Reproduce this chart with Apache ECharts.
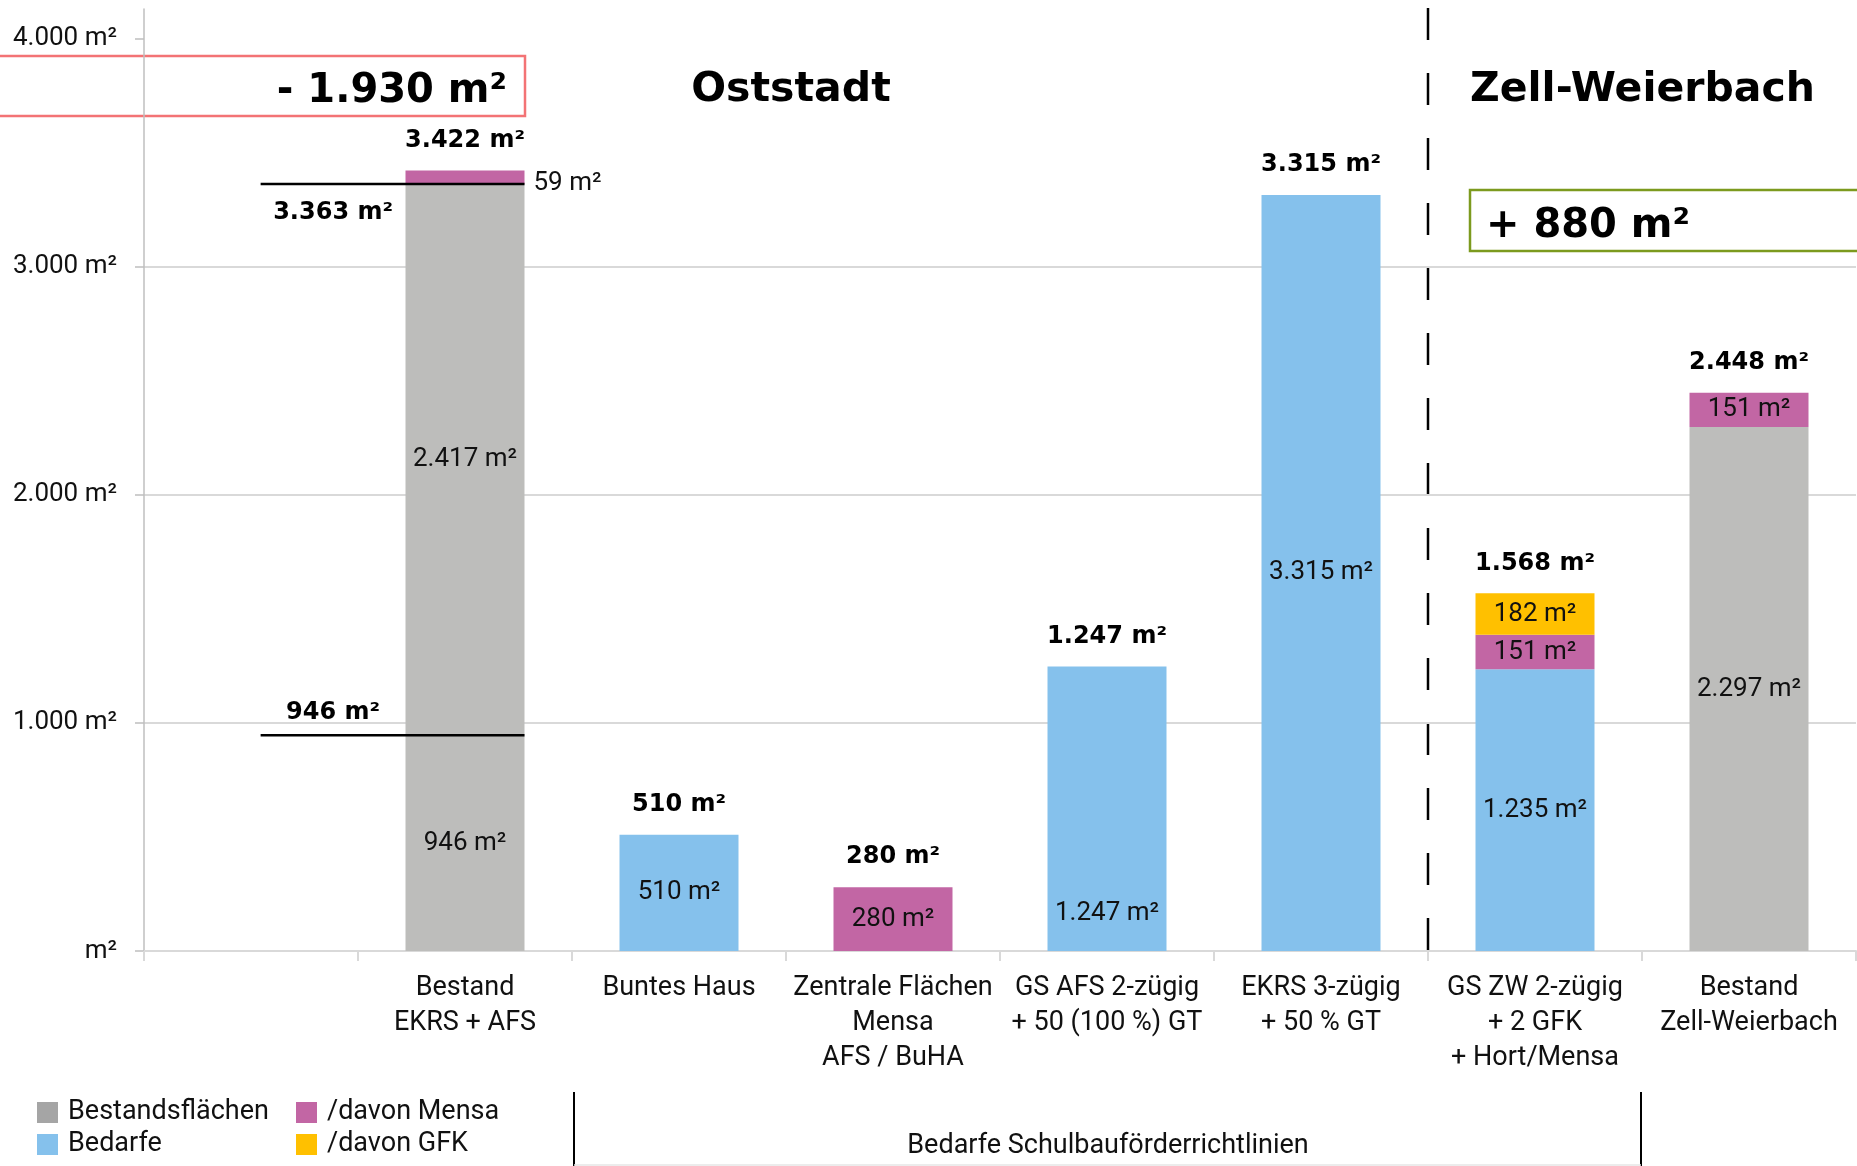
<!DOCTYPE html>
<html>
<head>
<meta charset="utf-8">
<title>Flächenbedarf Oststadt / Zell-Weierbach</title>
<script src="https://cdn.jsdelivr.net/npm/echarts@6/dist/echarts.min.js"></script>
<style>
  html, body { margin: 0; padding: 0; background: #fff; }
  #main { width: 1857px; height: 1166px; }
</style>
</head>
<body>
<div id="main"></div>
<script type="text/javascript">
// Kategorien (erste Spalte ist leer)
var categories = ['', 'Bestand\nEKRS + AFS', 'Buntes Haus', 'Zentrale Flächen\nMensa\nAFS / BuHA',
  'GS AFS 2-zügig\n+ 50 (100 %) GT', 'EKRS 3-zügig\n+ 50 % GT', 'GS ZW 2-zügig\n+ 2 GFK\n+ Hort/Mensa',
  'Bestand\nZell-Weierbach'];

// Werte in m²
var bestandUnten = [null, 946, null, null, null, null, null, 2297];
var bestandOben  = [null, 2417, null, null, null, null, null, null];
var bedarfe      = [null, null, 510, null, 1247, 3315, 1235, null];
var mensa        = [null, 59, null, 280, null, null, 151, 151];
var gfk          = [null, null, null, null, null, null, 182, null];

// Bezugslinien im Bestand EKRS + AFS
var refValues = [946, 3363];
var refSides = ['above', 'below'];

var yTicks = [0, 1000, 2000, 3000, 4000];

var REG = 'Roboto';
var BOLD = '"DejaVu Sans"';
var barW = 119;

function fmt(v) {
  return String(v).replace(/\B(?=(\d{3})+(?!\d))/g, '.');
}
function m2(v) { return fmt(v) + ' m²'; }

var totals = categories.map(function (c, i) {
  var s = 0;
  [bestandUnten, bestandOben, bedarfe, mensa, gfk].forEach(function (arr) {
    if (arr[i] != null) s += arr[i];
  });
  return s > 0 ? [i, s] : null;
}).filter(function (d) { return d; });

var innerLabel = {
  show: true,
  position: 'inside',
  fontFamily: REG,
  fontSize: 26,
  color: '#111',
  formatter: function (p) { return m2(p.value); }
};

function barSeries(name, arr, color, tweak) {
  return {
    name: name,
    type: 'bar',
    stack: 'flaeche',
    barWidth: barW,
    itemStyle: { color: color },
    label: innerLabel,
    data: arr.map(function (v, i) {
      if (v == null) return null;
      if (tweak && tweak[i]) return { value: v, label: tweak[i] };
      return v;
    })
  };
}

var legendBase = {
  orient: 'vertical',
  top: 1099,
  height: 80,
  padding: 0,
  icon: 'rect',
  itemWidth: 21,
  itemHeight: 21,
  itemGap: 5,
  selectedMode: false,
  textStyle: { fontFamily: REG, fontSize: 27, color: '#111', lineHeight: 21, padding: [0, 0, 0, 5] }
};

var myChart = echarts.init(document.getElementById('main'));

var option = {
  animation: false,
  backgroundColor: '#fff',
  grid: { left: 144, right: 1, top: 9, bottom: 215 },
  legend: [
    Object.assign({}, legendBase, {
      left: 37,
      data: [{ name: 'Bestandsflächen', itemStyle: { color: '#A5A5A5' } }, 'Bedarfe']
    }),
    Object.assign({}, legendBase, {
      left: 296,
      data: ['/davon Mensa', '/davon GFK']
    })
  ],
  xAxis: {
    type: 'category',
    data: categories,
    axisLine: { lineStyle: { color: '#D9D9D9', width: 2 } },
    axisTick: { show: true, length: 10, lineStyle: { color: '#D9D9D9', width: 2 } },
    axisLabel: {
      interval: 0,
      margin: 20,
      fontFamily: REG,
      fontSize: 27,
      lineHeight: 35,
      color: '#111'
    }
  },
  yAxis: {
    type: 'value',
    min: 0,
    max: 4130,
    interval: 1000,
    axisLine: { show: true, lineStyle: { color: '#BFBFBF', width: 1.5 } },
    axisTick: { show: true, length: 9, customValues: yTicks, lineStyle: { color: '#BFBFBF', width: 1.5 } },
    splitLine: { show: true, showMaxLine: false, lineStyle: { color: '#D9D9D9', width: 2 } },
    axisLabel: {
      customValues: yTicks,
      margin: 27,
      fontFamily: REG,
      fontSize: 26,
      color: '#111',
      formatter: function (v) { return v === 0 ? 'm²' : m2(v); }
    }
  },
  series: [
    barSeries('Bestandsflächen', bestandUnten, '#BDBDBB'),
    barSeries('Bestandsflächen', bestandOben, '#BDBDBB'),
    barSeries('Bedarfe', bedarfe, '#85C1EC', { 4: { position: 'insideBottom', distance: 25 } }),
    barSeries('/davon Mensa', mensa, '#C266A4', { 1: { position: 'right', distance: 9, offset: [0, 6] } }),
    barSeries('/davon GFK', gfk, '#FFC000'),
    {
      name: 'Summe',
      type: 'custom',
      z: 10,
      renderItem: function (params, api) {
        var p = api.coord([api.value(0), api.value(1)]);
        return {
          type: 'text',
          x: p[0],
          y: p[1] - 18,
          style: {
            text: m2(api.value(1)),
            font: 'bold 24px ' + BOLD,
            fill: '#000',
            align: 'center',
            verticalAlign: 'bottom'
          }
        };
      },
      data: totals
    },
    {
      name: 'Bezug',
      type: 'custom',
      z: 10,
      renderItem: function (params, api) {
        var v = api.value(1);
        var p0 = api.coord([0, v]);
        var p1 = api.coord([1, v]);
        var band = api.size([1, 0])[0];
        var x0 = p0[0] + band * 0.045;
        var x1 = p1[0] + barW / 2;
        var tx = (x0 + p1[0] - barW / 2) / 2;
        var side = refSides[params.dataIndex];
        return {
          type: 'group',
          children: [{
            type: 'line',
            shape: { x1: x0, y1: p0[1], x2: x1, y2: p0[1] },
            style: { stroke: '#000', lineWidth: 2.5 }
          }, {
            type: 'text',
            x: tx,
            y: side === 'above' ? p0[1] - 22 : p0[1] + 29,
            style: {
              text: m2(v),
              font: 'bold 24px ' + BOLD,
              fill: '#000',
              align: 'center',
              verticalAlign: 'middle'
            }
          }]
        };
      },
      data: refValues.map(function (v) { return [0, v]; })
    }
  ],
  graphic: [
    {
      type: 'rect',
      shape: { x: -3, y: 56, width: 528, height: 60 },
      style: { fill: 'none', stroke: '#F37375', lineWidth: 2.5 }
    },
    {
      type: 'text', x: 507, y: 92,
      style: { text: '- 1.930 m²', font: 'bold 40px ' + BOLD, fill: '#000', align: 'right', verticalAlign: 'middle' }
    },
    {
      type: 'text', x: 791, y: 90,
      style: { text: 'Oststadt', font: 'bold 41px ' + BOLD, fill: '#000', align: 'center', verticalAlign: 'middle' }
    },
    {
      type: 'text', x: 1470, y: 90,
      style: { text: 'Zell-Weierbach', font: 'bold 41px ' + BOLD, fill: '#000', align: 'left', verticalAlign: 'middle' }
    },
    {
      type: 'rect',
      shape: { x: 1470, y: 190, width: 410, height: 61 },
      style: { fill: 'none', stroke: '#7C9A1E', lineWidth: 2.5 }
    },
    {
      type: 'text', x: 1486, y: 227,
      style: { text: '+ 880 m²', font: 'bold 40px ' + BOLD, fill: '#000', align: 'left', verticalAlign: 'middle' }
    },
    {
      type: 'line',
      shape: { x1: 1428, y1: 8, x2: 1428, y2: 962 },
      style: { stroke: '#000', lineWidth: 2.5, lineDash: [32, 33] }
    },
    {
      type: 'line',
      shape: { x1: 574, y1: 1092, x2: 574, y2: 1166 },
      style: { stroke: '#000', lineWidth: 2 }
    },
    {
      type: 'line',
      shape: { x1: 1641, y1: 1092, x2: 1641, y2: 1166 },
      style: { stroke: '#000', lineWidth: 2 }
    },
    {
      type: 'line',
      shape: { x1: 574, y1: 1165, x2: 1641, y2: 1165 },
      style: { stroke: '#E6E6E6', lineWidth: 1.5 }
    },
    {
      type: 'text', x: 1108, y: 1146,
      style: { text: 'Bedarfe Schulbauförderrichtlinien', font: '27px ' + REG, fill: '#111', align: 'center', verticalAlign: 'middle' }
    }
  ]
};

myChart.setOption(option);
</script>
</body>
</html>
